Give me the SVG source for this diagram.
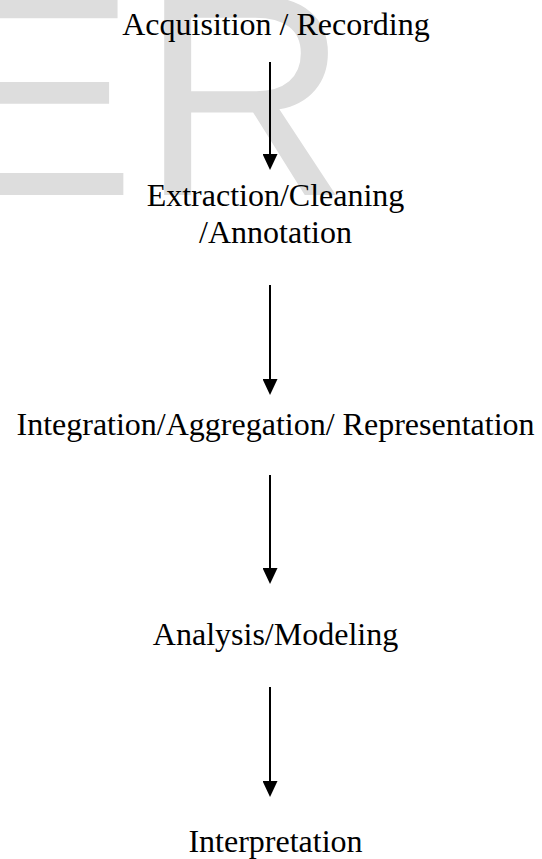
<svg xmlns="http://www.w3.org/2000/svg" width="542" height="859" viewBox="0 0 542 859">
  <style>
    .bg { fill: #ffffff; }
    .wm { font-family: "Liberation Sans", Arial, sans-serif; font-size: 289px; fill: #dddddd; }
    .lbl { font-family: "Liberation Serif", "Times New Roman", serif; font-size: 32px; fill: #000000; text-anchor: middle; }
    .conn { stroke: #000000; stroke-width: 2; fill: none; marker-end: url(#arrow); }
  </style>
  <defs>
    <marker id="arrow" viewBox="0 0 16 15" refX="8" refY="7.5" markerWidth="16" markerHeight="15" markerUnits="userSpaceOnUse" orient="auto">
      <path d="M0,0 L16,7.5 L0,15 Z" fill="#000000"/>
    </marker>
  </defs>
  <rect class="bg" x="0" y="0" width="542" height="859"/>
  <g id="watermark">
    <text class="wm" x="-57" y="195">E<tspan x="140.5">R</tspan></text>
  </g>
  <g id="connectors">
    <line class="conn" x1="270" y1="62" x2="270" y2="162"/>
    <line class="conn" x1="270" y1="285" x2="270" y2="387"/>
    <line class="conn" x1="270" y1="475" x2="270" y2="576"/>
    <line class="conn" x1="270" y1="687" x2="270" y2="789"/>
  </g>
  <g id="node-acquisition">
    <text class="lbl" x="276" y="35">Acquisition / Recording</text>
  </g>
  <g id="node-extraction">
    <text class="lbl" x="275.5" y="206">Extraction/Cleaning</text>
    <text class="lbl" x="275.5" y="242.5">/Annotation</text>
  </g>
  <g id="node-integration">
    <text class="lbl" x="275.5" y="435">Integration/Aggregation/ Representation</text>
  </g>
  <g id="node-analysis">
    <text class="lbl" x="275.5" y="645">Analysis/Modeling</text>
  </g>
  <g id="node-interpretation">
    <text class="lbl" x="275.5" y="852">Interpretation</text>
  </g>
</svg>
